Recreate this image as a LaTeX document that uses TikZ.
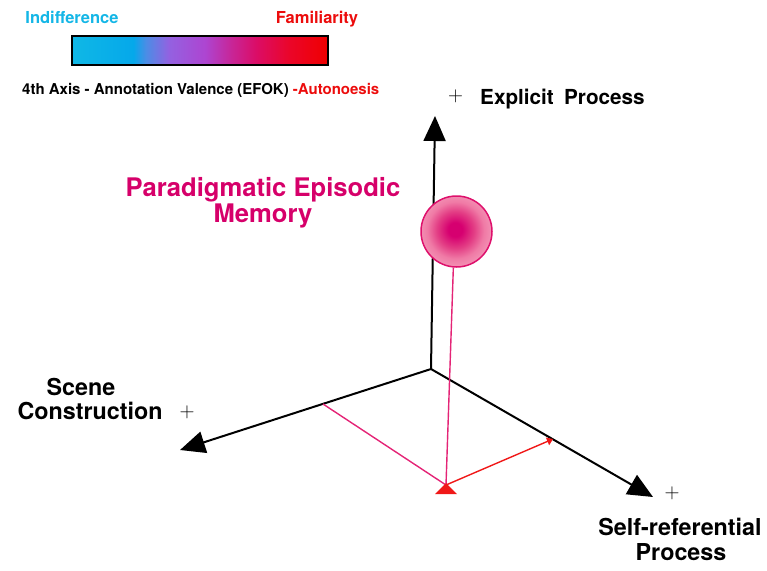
\documentclass[tikz,border=0pt]{standalone}
\usepackage{fontspec}
\setmainfont{TeX Gyre Heros}
\usetikzlibrary{arrows.meta,calc}

% palette
\definecolor{cyanlbl}{RGB}{20,182,230}
\definecolor{famred}{RGB}{236,12,12}
\definecolor{memtext}{RGB}{214,0,106}
\definecolor{projpink}{RGB}{228,36,118}
\definecolor{projred}{RGB}{240,24,24}
\definecolor{sphererim}{RGB}{222,16,108}

% valence scale: cyan -> violet -> magenta -> red
% (the filled box spans 25bp..75bp of the shading)
\pgfdeclarehorizontalshading{valence}{100bp}{%
  rgb(0bp)=(0.06,0.72,0.90);
  rgb(25bp)=(0.06,0.72,0.90);
  rgb(37bp)=(0.02,0.66,0.92);
  rgb(39.5bp)=(0.30,0.55,0.90);
  rgb(44bp)=(0.58,0.38,0.88);
  rgb(51bp)=(0.68,0.27,0.82);
  rgb(56bp)=(0.78,0.15,0.60);
  rgb(61bp)=(0.86,0.05,0.40);
  rgb(67.5bp)=(0.92,0.02,0.16);
  rgb(75bp)=(0.94,0.00,0.00);
  rgb(100bp)=(0.94,0.00,0.00)}

% glowing memory sphere (rim at 25bp)
\pgfdeclareradialshading{spheregrad}{\pgfpoint{-1bp}{1.5bp}}{%
  rgb(0bp)=(0.84,0.00,0.44);
  rgb(5bp)=(0.84,0.00,0.44);
  rgb(13bp)=(0.89,0.24,0.52);
  rgb(20bp)=(0.94,0.48,0.65);
  rgb(25bp)=(0.95,0.56,0.70);
  rgb(50bp)=(0.95,0.56,0.70)}

\begin{document}
\begin{tikzpicture}[x=1pt,y=-1pt,
  axis/.style={line width=2pt,-{Triangle[length=25pt,width=22pt]}},
  proj/.style={line width=1.4pt,draw=projpink},
  lbl/.style={inner sep=0pt,anchor=base,font=\bfseries\fontsize{23.3}{26}\selectfont},
  small/.style={inner sep=0pt,anchor=base,font=\bfseries\fontsize{16.5}{18}\selectfont},
  plusmark/.style={inner sep=0pt,font=\fontsize{21}{21}\selectfont}]
\useasboundingbox (0,0) rectangle (767,570);

% colour scale and its captions
\node[small,text=cyanlbl] (indiff) at (72,23) {Indifference};
\node[small,text=famred] (famil) at (317,23) {Familiarity};
\node[draw,line width=1.5pt,shading=valence,minimum width=256pt,minimum height=29pt,inner sep=0pt] (bar) at (200,50.5) {};
\node[inner sep=0pt,anchor=base west,font=\bfseries\fontsize{15}{17}\selectfont] (axis4) at (22,94)
  {4th Axis - Annotation Valence (EFOK) \textcolor{famred}{-Autonoesis}};

% axes
\coordinate (O) at (431,369);
\coordinate (Up) at (435,116);
\coordinate (Left) at (180,450);
\coordinate (Right) at (653,497);
\draw[axis] (O) -- (Up);
\draw[axis] (O) -- (Left);
\draw[axis] (O) -- (Right);

% axis labels
\node[plusmark] (plusup) at (455.5,96) {$+$};
\node[lbl,anchor=base west,font=\bfseries\fontsize{20.7}{24}\selectfont] (explicit) at (480,104) {Explicit\hspace{0.5em}Process};
\node[lbl] (scene) at (81,395) {Scene};
\node[lbl] (constr) at (90,419) {Construction};
\node[plusmark] (plusleft) at (187,412) {$+$};
\node[plusmark] (plusright) at (672,493) {$+$};
\node[lbl] (selfref) at (680,535) {Self-referential};
\node[lbl] (process) at (681,560) {Process};

% memory point and its projections
\node[lbl,text=memtext,font=\bfseries\fontsize{25.6}{28}\selectfont] (pem1) at (263,196) {Paradigmatic Episodic};
\node[lbl,text=memtext,font=\bfseries\fontsize{25.6}{28}\selectfont] (pem2) at (263,222) {Memory};
\node[circle,draw=sphererim,line width=1.5pt,shading=spheregrad,minimum size=71pt,inner sep=0pt] (sphere) at (456.5,231.5) {};

\coordinate (Lp) at (323,404);
\coordinate (Rp) at (553,439);
\coordinate (Foot) at (446,485);
\draw[proj] (sphere.265) -- (Foot);
\draw[proj] (Lp) -- (Foot);
\draw[line width=1.4pt,draw=projred,-{Triangle[length=6pt,width=8pt]}] (Foot) -- (Rp);
\fill[projred] ($(Foot)+(0,-2)$) -- ($(Foot)+(11,9)$) -- ($(Foot)+(-11,9)$) -- cycle;
\end{tikzpicture}
\end{document}
